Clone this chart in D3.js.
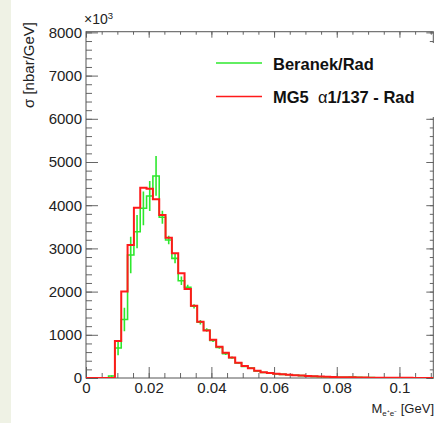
<!DOCTYPE html>
<html>
<head>
<meta charset="utf-8">
<script src="https://d3js.org/d3.v7.min.js"></script>
<style>
body { margin: 0; background: #fff; }
text { font-family: "Liberation Sans", Arial, sans-serif; }
</style>
</head>
<body>
<svg></svg>
<script>

// dati (valori in unita di 10^3 nbar/GeV)
var binLow = 0.0072
var binW = 0.00202

var beranek = [46, 695, 1355, 2847, 3387, 3928, 4213, 4676, 3720, 3194, 2770, 2250, 2100, 1660, 1290, 1110,
    870, 705, 560, 470, 350, 270, 228, 162, 128, 118, 96, 84, 76, 62, 54, 44,
    37, 30, 26, 22, 18, 16, 22, 18, 10, 8, 7, 5, 5, 4, 3, 2, 2, 2, 1, 1]
var beranekErr = [20, 170, 270, 420, 385, 390, 350, 460, 150, 100, 115, 100, 60, 50, 50, 40,
    35, 30, 28, 25, 20, 18, 16, 14, 12, 11, 10, 9, 8, 8, 7, 6,
    6, 5, 5, 4, 4, 4, 5, 4, 3, 3, 3, 2, 2, 2, 2, 1, 1, 1, 1, 1]
var mg5 = [0, 856, 2005, 3080, 3940, 4405, 4382, 4136, 3773, 3248, 2886, 2424, 2060, 1670, 1303, 1100,
    888, 725, 586, 475, 354, 278, 225, 169, 132, 116, 100, 86, 74, 65, 56, 46,
    39, 32, 28, 23, 20, 17, 15, 12, 10, 8, 7, 6, 5, 4, 3, 3, 2, 2, 2, 1]

var xTicks = [0, 0.02, 0.04, 0.06, 0.08, 0.1]
var yTicks = [0, 1000, 2000, 3000, 4000, 5000, 6000, 7000, 8000]
var legendNames = ["Beranek/Rad", "MG5  α1/137 - Rad"]
var colori = ["#2ee82e", "#ff1a1a"]

var svg = d3.select("svg")
    .attr("width", 437)
    .attr("height", 423);

// striscia a sinistra
svg.append("rect")
    .attr("x", 0).attr("y", 0)
    .attr("width", 11).attr("height", 423)
    .attr("fill", "#eff2e5");

var x = d3.scaleLinear().domain([0, 0.1108]).range([86, 433.3])
var y = d3.scaleLinear().domain([0, 8000]).range([378, 32.4])
var yTop = y(8016)

// tacche minori
var xMinor = d3.range(0, 0.111, 0.005)
var yMinor = d3.range(0, 8001, 200)

// assi con tacche verso l'interno (stile ROOT)
var gx = svg.append("g").attr("transform", "translate(0," + y(0) + ")")
    .call(d3.axisBottom(x).tickValues(xMinor).tickSize(-5).tickSizeOuter(0).tickFormat(""))
gx.select(".domain").remove()
var gx2 = svg.append("g").attr("transform", "translate(0," + y(0) + ")")
    .call(d3.axisBottom(x).tickValues(xTicks).tickSize(-11).tickSizeOuter(0).tickPadding(4)
        .tickFormat(function(d){ return d == 0 ? "0" : String(+d.toFixed(2)) }))
gx2.select(".domain").remove()

var gy = svg.append("g").attr("transform", "translate(" + x(0) + ",0)")
    .call(d3.axisLeft(y).tickValues(yMinor).tickSize(-6).tickSizeOuter(0).tickFormat(""))
gy.select(".domain").remove()
var gy2 = svg.append("g").attr("transform", "translate(" + x(0) + ",0)")
    .call(d3.axisLeft(y).tickValues(yTicks).tickSize(-12).tickSizeOuter(0).tickPadding(4)
        .tickFormat(d3.format("d")))
gy2.select(".domain").remove()

// assi opposti, senza etichette
var gt = svg.append("g").attr("transform", "translate(0," + yTop + ")")
    .call(d3.axisTop(x).tickValues(xMinor).tickSize(-3).tickSizeOuter(0).tickFormat(""))
gt.select(".domain").remove()
var gt2 = svg.append("g").attr("transform", "translate(0," + yTop + ")")
    .call(d3.axisTop(x).tickValues(xTicks).tickSize(-6).tickSizeOuter(0).tickFormat(""))
gt2.select(".domain").remove()
var gr = svg.append("g").attr("transform", "translate(433.3,0)")
    .call(d3.axisRight(y).tickValues(yMinor).tickSize(-3.5).tickSizeOuter(0).tickFormat(""))
gr.select(".domain").remove()
var gr2 = svg.append("g").attr("transform", "translate(433.3,0)")
    .call(d3.axisRight(y).tickValues(yTicks).tickSize(-7).tickSizeOuter(0).tickFormat(""))
gr2.select(".domain").remove()

svg.selectAll(".tick line").attr("stroke", "#666")
svg.selectAll(".tick text")
    .attr("font-size", 15)
    .attr("font-family", "Liberation Sans, Arial, sans-serif")
    .attr("fill", "#222")

// cornice
svg.append("rect")
    .attr("x", x(0)).attr("y", yTop)
    .attr("width", 433.3 - x(0)).attr("height", y(0) - yTop)
    .attr("fill", "none").attr("stroke", "#555").attr("stroke-width", 1)

svg.append("clipPath").attr("id", "clip")
    .append("rect")
    .attr("x", x(0)).attr("y", yTop - 2)
    .attr("width", 433.3 - x(0)).attr("height", y(0) - yTop + 2)

// istogramma a gradini
function gradini(vals){
    var pts = [[0, 0]]
    for (var i = 0; i < vals.length; i++) {
        pts.push([binLow + i * binW, vals[i]])
    }
    pts.push([binLow + vals.length * binW, vals[vals.length - 1]])
    return pts
}

var line = d3.line()
    .x(function(d){ return x(d[0]) })
    .y(function(d){ return y(d[1]) })
    .curve(d3.curveStepAfter)

var plot = svg.append("g").attr("clip-path", "url(#clip)")

plot.append("path")
    .attr("d", line(gradini(beranek)))
    .attr("fill", "none")
    .attr("stroke", colori[0])
    .attr("stroke-width", 1.6)

// barre d'errore
plot.selectAll(".err")
    .data(beranek)
    .enter()
    .append("line")
    .attr("class", "err")
    .attr("x1", function(d, i){ return x(binLow + (i + 0.5) * binW) })
    .attr("x2", function(d, i){ return x(binLow + (i + 0.5) * binW) })
    .attr("y1", function(d, i){ return y(d + beranekErr[i]) })
    .attr("y2", function(d, i){ return y(Math.max(0, d - beranekErr[i])) })
    .attr("stroke", colori[0])
    .attr("stroke-width", 1.6)

plot.append("path")
    .attr("d", line(gradini(mg5)))
    .attr("fill", "none")
    .attr("stroke", colori[1])
    .attr("stroke-width", 2)

// legenda (copre le tacche a destra)
svg.append("rect")
    .attr("x", 205).attr("y", 43)
    .attr("width", 232).attr("height", 74)
    .attr("fill", "#fff")

legendNames.forEach(function(nome, i){
    var ly = 63 + i * 33.5
    svg.append("line")
        .attr("x1", 216).attr("x2", 262)
        .attr("y1", ly).attr("y2", ly)
        .attr("stroke", colori[i])
        .attr("stroke-width", 1.6)
    var t = svg.append("text")
        .attr("x", 273).attr("y", ly + 6.5)
        .attr("font-size", 16.5)
        .attr("font-weight", "bold")
        .attr("fill", "#111")
        .style("white-space", "pre")
    if (nome.indexOf("α") >= 0) {
        var parti = nome.split("α")
        t.append("tspan").text(parti[0])
        t.append("tspan").attr("font-weight", "normal").text("α")
        t.append("tspan").text(parti[1])
    } else {
        t.text(nome)
    }
})

// titoli
svg.append("text")
    .attr("transform", "translate(34,22) rotate(-90)")
    .attr("text-anchor", "end")
    .attr("font-size", 15)
    .attr("fill", "#222")
    .text("σ [nbar/GeV]")

var xt = svg.append("text")
    .attr("x", 434).attr("y", 413)
    .attr("text-anchor", "end")
    .attr("font-size", 13)
    .attr("fill", "#222")
xt.append("tspan").text("M")
xt.append("tspan").attr("font-size", 8).attr("dy", 3).text("e⁺e⁻")
xt.append("tspan").attr("dy", -3).text(" [GeV]")

var esp = svg.append("text")
    .attr("x", 84).attr("y", 24)
    .attr("font-size", 14)
    .attr("fill", "#222")
esp.append("tspan").text("×10")
esp.append("tspan").attr("font-size", 9.5).attr("dy", -5).text("3")

</script>
</body>
</html>
